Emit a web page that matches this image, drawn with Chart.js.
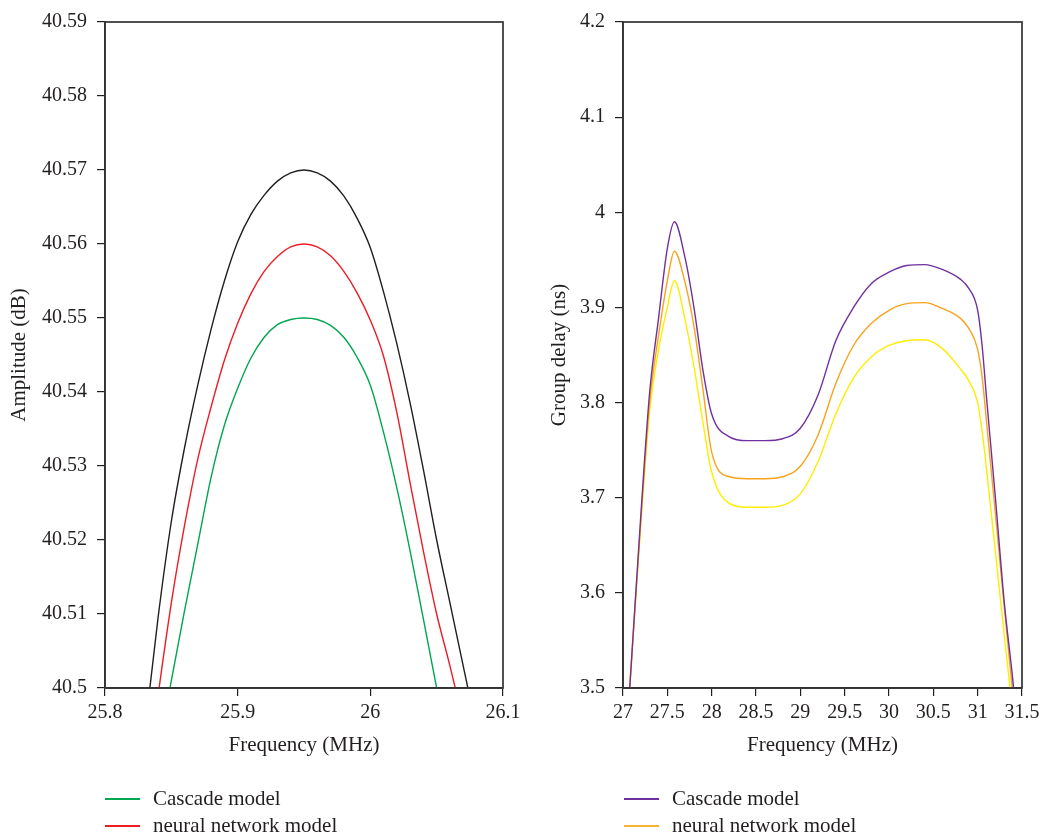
<!DOCTYPE html>
<html>
<head>
<meta charset="utf-8">
<script src="https://cdn.jsdelivr.net/npm/chart.js@4.4.1/dist/chart.umd.min.js"></script>
<style>
  html, body { margin: 0; padding: 0; background: #fff; }
  body { width: 1052px; height: 838px; position: relative; overflow: hidden; font-family: "Liberation Serif", serif; color: #231f20; }
  canvas { position: absolute; top: 0; }
  #ampChart { left: 0; }
  #delayChart { left: 530px; }
  .legend { position: absolute; font-size: 21px; line-height: 27px; }
  .legend .item { display: flex; align-items: center; white-space: nowrap; }
  .legend .swatch { display: inline-block; width: 35px; height: 2px; margin-right: 13px; }
</style>
</head>
<body>
<canvas id="ampChart" width="530" height="838"></canvas>
<canvas id="delayChart" width="522" height="838"></canvas>
<div class="legend" id="ampLegend" style="left:105px; top:785px;"></div>
<div class="legend" id="delayLegend" style="left:624px; top:785px;"></div>
<script>
// Left panel: amplitude vs frequency
const ampFreq = [25.83, 25.84, 25.85, 25.86, 25.87, 25.88, 25.89, 25.90, 25.91, 25.92, 25.93, 25.94, 25.95,
  25.96, 25.97, 25.98, 25.99, 26.00, 26.01, 26.02, 26.03, 26.04, 26.05, 26.06, 26.07, 26.08];
const ampCascade = [40.481, 40.491, 40.501, 40.5105, 40.5195, 40.5285, 40.5355, 40.5405, 40.5446, 40.5474, 40.5491, 40.5498, 40.550,
  40.5498, 40.549, 40.5474, 40.5447, 40.5409, 40.5345, 40.527, 40.5185, 40.5093, 40.500, 40.4907, 40.4814, 40.472];
const ampNeural = [40.4855, 40.499, 40.5115, 40.522, 40.531, 40.538, 40.5443, 40.5493, 40.5533, 40.5563, 40.5583, 40.5596, 40.560,
  40.5596, 40.5584, 40.5563, 40.5534, 40.5497, 40.5448, 40.5372, 40.5277, 40.5185, 40.510, 40.503, 40.4955, 40.488];
const ampMeasured = [40.494, 40.5095, 40.5225, 40.5325, 40.541, 40.5485, 40.555, 40.5603, 40.564, 40.5666, 40.5685, 40.5696, 40.570,
  40.5696, 40.5685, 40.5665, 40.5635, 40.5595, 40.5535, 40.5465, 40.5385, 40.5295, 40.520, 40.5115, 40.503, 40.4945];

// Right panel: group delay vs frequency
const delayFreq = [27.0, 27.1, 27.2, 27.3, 27.4, 27.5, 27.58, 27.7, 27.8, 27.9, 28.0, 28.2, 28.4, 28.6, 28.8, 29.0, 29.2,
  29.4, 29.6, 29.8, 30.0, 30.2, 30.4, 30.6, 30.8, 30.9, 31.0, 31.05, 31.1, 31.2, 31.3, 31.4, 31.5];
const delayCascade = [3.39, 3.535, 3.68, 3.81, 3.888, 3.962, 3.990, 3.952, 3.90, 3.835, 3.788, 3.764, 3.760, 3.760, 3.762, 3.773, 3.808,
  3.865, 3.90, 3.925, 3.937, 3.944, 3.945, 3.94, 3.930, 3.92, 3.897, 3.86, 3.805, 3.70, 3.59, 3.505, 3.40];
const delayNeural = [3.39, 3.535, 3.675, 3.80, 3.87, 3.928, 3.959, 3.926, 3.88, 3.815, 3.748, 3.722, 3.720, 3.720, 3.722, 3.733, 3.766,
  3.82, 3.86, 3.883, 3.897, 3.904, 3.905, 3.899, 3.889, 3.878, 3.856, 3.827, 3.78, 3.683, 3.585, 3.49, 3.39];
const delayMeasured = [3.39, 3.535, 3.67, 3.79, 3.855, 3.90, 3.928, 3.887, 3.838, 3.78, 3.727, 3.694, 3.690, 3.690, 3.692, 3.704, 3.738,
  3.788, 3.826, 3.848, 3.86, 3.865, 3.866, 3.857, 3.836, 3.823, 3.80, 3.77, 3.73, 3.643, 3.555, 3.47, 3.38];

const seriesNames = ["Cascade model", "neural network model", "Measured"];

const ink = "#231f20";
const tickFont = { family: "'Liberation Serif', serif", size: 20 };
const titleFont = { family: "'Liberation Serif', serif", size: 21 };
const fmt = v => String(Math.round(v * 100) / 100);

const pts = (xs, ys) => xs.map((x, i) => ({ x: x, y: ys[i] }));

// box around the plot area
const framePlugin = {
  id: "frame",
  afterDatasetsDraw(chart) {
    const { ctx, chartArea: a } = chart;
    ctx.save();
    ctx.strokeStyle = "#333";
    ctx.lineWidth = 1.7;
    ctx.strokeRect(a.left, a.top, a.right - a.left, a.bottom - a.top);
    ctx.restore();
  }
};

function makeChart(id, cfg) {
  const ctx = document.getElementById(id).getContext("2d");
  return new Chart(ctx, {
    type: "line",
    data: {
      datasets: cfg.series.map((s, i) => ({
        label: seriesNames[i],
        data: pts(cfg.xs, s),
        borderColor: cfg.colors[i],
        borderWidth: 1.4,
        pointRadius: 0,
        fill: false,
        cubicInterpolationMode: "monotone"
      }))
    },
    options: {
      responsive: false,
      animation: false,
      devicePixelRatio: 1,
      layout: { padding: { top: 20, right: cfg.padRight, bottom: 80, left: 0 } },
      plugins: { legend: { display: false }, tooltip: { enabled: false } },
      scales: {
        x: {
          type: "linear",
          min: cfg.xMin, max: cfg.xMax,
          ticks: { stepSize: cfg.xStep, callback: fmt, font: tickFont, color: ink, padding: 5, maxRotation: 0, autoSkip: false },
          grid: { drawOnChartArea: false, tickLength: 8, color: ink, lineWidth: 1.2 },
          border: { color: "#333", width: 1.7 },
          title: { display: true, text: "Frequency (MHz)", font: titleFont, color: ink, padding: { top: 0, bottom: 0 } },
          afterFit(s) { s.height = 70; }
        },
        y: {
          min: cfg.yMin, max: cfg.yMax,
          ticks: { stepSize: cfg.yStep, callback: fmt, font: tickFont, color: ink, padding: 10, autoSkip: false },
          grid: { drawOnChartArea: false, tickLength: 8, color: ink, lineWidth: 1.2 },
          border: { color: "#333", width: 1.7 },
          title: { display: true, text: cfg.yTitle, font: titleFont, color: ink, padding: { top: cfg.yTitlePad, bottom: 0 } },
          afterFit(s) { s.width = cfg.yWidth; }
        }
      }
    },
    plugins: [framePlugin]
  });
}

function makeLegend(id, colors) {
  const box = document.getElementById(id);
  // only the first two entries are visible in the figure
  seriesNames.slice(0, 2).forEach((name, i) => {
    const row = document.createElement("div");
    row.className = "item";
    const sw = document.createElement("span");
    sw.className = "swatch";
    sw.style.background = colors[i];
    const txt = document.createElement("span");
    txt.textContent = name;
    row.appendChild(sw);
    row.appendChild(txt);
    box.appendChild(row);
  });
}

const ampColors = ["#00a650", "#ed1c24", "#231f20"];
const delayColors = ["#7030a0", "#f9a21b", "#ffed00"];

makeChart("ampChart", {
  xs: ampFreq, series: [ampCascade, ampNeural, ampMeasured], colors: ampColors,
  xMin: 25.8, xMax: 26.1, xStep: 0.1, yMin: 40.5, yMax: 40.59, yStep: 0.01,
  yTitle: "Amplitude (dB)", yTitlePad: 7, yWidth: 105, padRight: 27
});
makeChart("delayChart", {
  xs: delayFreq, series: [delayCascade, delayNeural, delayMeasured], colors: delayColors,
  xMin: 27, xMax: 31.5, xStep: 0.5, yMin: 3.5, yMax: 4.2, yStep: 0.1,
  yTitle: "Group delay (ns)", yTitlePad: 17, yWidth: 93, padRight: 30
});
makeLegend("ampLegend", ampColors);
makeLegend("delayLegend", ["#7030a0", "#f9b233"]);
</script>
</body>
</html>
